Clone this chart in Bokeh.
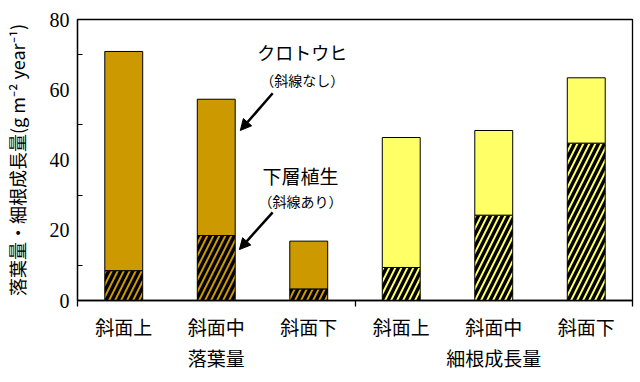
from bokeh.plotting import figure
from bokeh.models import (Range1d, LinearAxis, FixedTicker, Label, Arrow, NormalHead,
                          ColumnDataSource)
from bokeh.core.properties import value
from bokeh.embed import file_html
from bokeh.resources import INLINE

# ---- data ----
groups = ["落葉量", "細根成長量"]
positions = ["斜面上", "斜面中", "斜面下"]
understory = [8.5, 18.5, 3.3, 9.4, 24.3, 44.8]      # 下層植生 (hatched)
spruce = [62.4, 38.8, 13.6, 37.0, 24.1, 18.6]        # クロトウヒ (plain)
y_ticks = [0, 20, 40, 60, 80]
y_minor = [10, 30, 50, 70]

group_colors = {"落葉量": "#CC9900", "細根成長量": "#FFFF66"}

n_pos = len(positions)
n_bars = len(groups) * n_pos
xs = [i + 0.5 for i in range(n_bars)]
bar_labels = [c for g in groups for c in positions]
bar_groups = [g for g in groups for c in positions]
fill = [group_colors[g] for g in bar_groups]
total = [u + s for u, s in zip(understory, spruce)]
src = ColumnDataSource(dict(x=xs, under=understory, total=total, fill=fill))
group_centers = [gi * n_pos + n_pos / 2 for gi in range(len(groups))]

CJK = "Noto Sans CJK JP"

p = figure(width=640, height=382,
           x_range=Range1d(0, n_bars), y_range=Range1d(0, 80),
           x_axis_location=None,
           output_backend="svg", toolbar_location=None,
           min_border_left=74, min_border_right=8, min_border_top=19, min_border_bottom=82)
p.xgrid.visible = False
p.ygrid.visible = False
p.outline_line_color = "black"
p.outline_line_width = 1.3
p.background_fill_color = "white"
p.border_fill_color = "white"

# bars
p.vbar(x="x", bottom=0, top="under", width=0.41, source=src,
       fill_color="fill", line_color="black", line_width=1,
       hatch_pattern=value("right_diagonal_line"), hatch_color="black",
       hatch_scale=12, hatch_weight=3.4)
p.vbar(x="x", bottom="under", top="total", width=0.41, source=src,
       fill_color="fill", line_color="black", line_width=1)

# y axis
ya = p.yaxis[0]
ya.ticker = FixedTicker(ticks=y_ticks, minor_ticks=y_minor)
ya.major_tick_in = 0
ya.major_tick_out = 0
ya.minor_tick_in = 5
ya.minor_tick_out = 0
ya.minor_tick_line_color = "black"
ya.axis_line_color = "black"
ya.axis_line_width = 1.3
ya.major_label_text_font = "Liberation Serif"
ya.major_label_text_font_size = "20px"
ya.major_label_text_color = "black"
ya.major_label_standoff = 8
ya.axis_label = "落葉量・細根成長量(g m⁻² year⁻¹)"
ya.axis_label_text_font = CJK
ya.axis_label_text_font_size = "18px"
ya.axis_label_text_font_style = "normal"
ya.axis_label_text_color = "#000000"
ya.axis_label_standoff = 17

# bottom axis: category labels + group separator ticks
xa = LinearAxis(ticker=FixedTicker(ticks=xs, minor_ticks=[0, n_pos, n_bars]),
                major_label_overrides={x: lab for x, lab in zip(xs, bar_labels)},
                major_tick_in=0, major_tick_out=0,
                minor_tick_in=0, minor_tick_out=6,
                minor_tick_line_color="black", minor_tick_line_width=1.3,
                axis_line_color="black", axis_line_width=1.3,
                major_label_text_font=CJK, major_label_text_font_size="19px",
                major_label_text_color="black", major_label_standoff=6)
p.add_layout(xa, "below")

ga = LinearAxis(ticker=FixedTicker(ticks=group_centers, minor_ticks=[]),
                major_label_overrides={x: g for x, g in zip(group_centers, groups)},
                major_tick_in=0, major_tick_out=0, minor_tick_line_color=None,
                axis_line_color=None,
                major_label_text_font=CJK, major_label_text_font_size="19px",
                major_label_text_color="black", major_label_standoff=1)
p.add_layout(ga, "below")

# annotations
p.add_layout(Label(x=2.43, y=70.7, text="クロトウヒ", text_align="center",
                   text_baseline="middle", text_font=CJK, text_font_size="18px",
                   text_color="black"))
p.add_layout(Label(x=2.43, y=62.8, text="（斜線なし）", text_align="center",
                   text_baseline="middle", text_font=CJK, text_font_size="14px",
                   text_color="black"))
p.add_layout(Label(x=2.41, y=35.6, text="下層植生", text_align="center",
                   text_baseline="middle", text_font=CJK, text_font_size="19px",
                   text_color="black"))
p.add_layout(Label(x=2.41, y=28.4, text="（斜線あり）", text_align="center",
                   text_baseline="middle", text_font=CJK, text_font_size="14px",
                   text_color="black"))
p.add_layout(Arrow(end=NormalHead(size=11, fill_color="black", line_color="black"),
                   x_start=2.11, y_start=59.0, x_end=1.76, y_end=48.4,
                   line_color="black", line_width=2.5))
p.add_layout(Arrow(end=NormalHead(size=11, fill_color="black", line_color="black"),
                   x_start=2.11, y_start=25.1, x_end=1.75, y_end=14.5,
                   line_color="black", line_width=2.5))

open("out.html", "w").write(file_html(p, INLINE))
